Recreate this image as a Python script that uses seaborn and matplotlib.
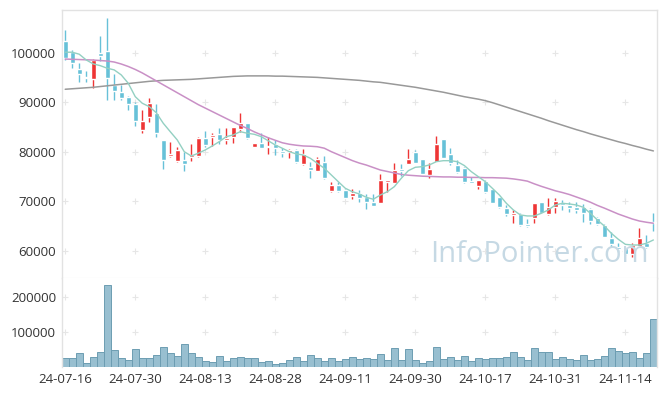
"""Candlestick chart with moving averages and volume (InfoPointer style)."""

import matplotlib
matplotlib.use("Agg")
import matplotlib.pyplot as plt
import numpy as np
import seaborn as sns

# ---- data ----
open_ = [102360, 100080, 96700, 95150, 94750, 100000, 100340, 93540, 92060, 91050,
         89640, 84450, 87070, 87760, 82370, 79200, 78180, 78330, 78870, 79130,
         82830, 82910, 83580, 82370, 83030, 84650, 85740, 81020, 81700, 81020,
         81500, 80140, 79880, 80350, 77460, 76970, 76160, 77860, 72060, 73280,
         72270, 71110, 71720, 70910, 69900, 69700, 73940, 73740, 76440, 77460,
         80000, 78530, 75300, 77980, 82510, 79540, 77320, 76650, 74080, 73140,
         74080, 72470, 70910, 68570, 67150, 67420, 65400, 66550, 69780, 67420,
         68770, 69580, 69240, 68770, 68890, 68370, 66550, 65200, 62500, 60690,
         60490, 59340, 61020, 61500, 65860]
high = [104590, 100550, 97860, 96360, 98670, 103370, 106950, 95700, 93480, 91250,
        90100, 88420, 90790, 89580, 82370, 82020, 81020, 80000, 81500, 83030,
        84180, 83720, 84730, 84730, 85050, 87760, 85860, 81760, 83840, 83030,
        82370, 80690, 80550, 80550, 80490, 77980, 78990, 79190, 73820, 73820,
        72410, 72410, 72270, 71400, 71400, 75440, 74290, 77660, 77460, 80490,
        80350, 78530, 77660, 83170, 82510, 80810, 78330, 76970, 74950, 74290,
        74290, 72470, 70910, 69240, 68230, 67560, 66350, 69700, 69900, 70710,
        70710, 70250, 69780, 69780, 69380, 68570, 66890, 65400, 63840, 61500,
        60810, 61620, 64530, 63170, 67560]
low = [98530, 96850, 94140, 94140, 92800, 98380, 90450, 90450, 90450, 88420,
       85190, 83840, 86060, 83030, 76450, 78990, 77980, 76160, 78120, 78990,
       81020, 81210, 81560, 81560, 81820, 84040, 82510, 80960, 80690, 79480,
       79330, 78990, 78670, 77780, 77320, 74630, 76100, 74490, 71920, 71920,
       70590, 70450, 69900, 68430, 69090, 69700, 71800, 73740, 75150, 77460,
       77660, 75500, 74630, 77980, 78790, 77320, 75760, 73600, 73600, 72470,
       71720, 69580, 68570, 67080, 65540, 65050, 64850, 65540, 67560, 67220,
       67560, 68230, 67880, 67560, 65860, 65400, 65200, 62710, 60810, 59800,
       59140, 58790, 61020, 60490, 64040]
close = [98990, 97860, 95760, 94950, 98460, 99400, 94950, 92330, 90910, 89580,
         86260, 86200, 89780, 83840, 78330, 79480, 80350, 77460, 79270, 82830,
         81350, 83380, 82370, 82830, 84990, 85740, 82710, 81700, 80810, 81220,
         80810, 79680, 80350, 77980, 79480, 76300, 78530, 74630, 73280, 72060,
         70710, 71720, 70710, 69900, 69090, 74290, 74290, 76300, 76160, 78530,
         77780, 75500, 76510, 81560, 78790, 77660, 75960, 73940, 73740, 74290,
         71920, 69700, 68890, 67420, 67680, 65200, 65050, 69580, 67680, 68770,
         70100, 69240, 68690, 68230, 67680, 66000, 65400, 62830, 61360, 60350,
         59340, 61150, 62500, 60810, 65660]
volume = [25700, 25700, 40000, 11400, 28600, 42900, 235100, 49400, 25700, 20900,
          51400, 25700, 25700, 34300, 57100, 40000, 31400, 65700, 40000, 28600,
          18000, 14300, 31400, 17100, 25700, 28600, 25700, 25700, 14300, 17100,
          8600, 11400, 20000, 28600, 17100, 34300, 25700, 17100, 25700, 17100,
          22900, 28600, 22900, 25700, 22900, 37100, 20000, 54300, 20000, 51400,
          20000, 11400, 17100, 57100, 22900, 28600, 20000, 31400, 17100, 25700,
          22900, 25700, 25700, 28600, 42900, 28600, 20000, 54300, 42900, 42900,
          22900, 28600, 22900, 20000, 34300, 20000, 22900, 31400, 54300, 45700,
          40000, 42900, 25700, 40000, 137100]
ma5 = [100080, 100080, 99680, 98520, 97720, 97370, 96850, 96510, 95500, 93820,
       91110, 89780, 89090, 87880, 85740, 84040, 82370, 80000, 79130, 79680,
       80350, 81150, 82020, 83030, 83380, 84040, 83720, 83510, 83030, 82200,
       81350, 80690, 80000, 79540, 79330, 78670, 77660, 76650, 75300, 73940,
       72610, 71920, 71460, 70790, 70390, 71250, 71920, 72930, 74630, 76160,
       76850, 76970, 77320, 77980, 78180, 78180, 77980, 77200, 75960, 74950,
       73940, 72610, 71250, 69580, 68230, 67220, 67020, 67020, 67560, 68230,
       69240, 69580, 69440, 69240, 68770, 67560, 66210, 64990, 63510, 62300,
       61290, 61150, 61150, 61500, 62170]
ma20 = [98700, 98650, 98600, 98550, 98500, 98400, 98300, 98100, 97700, 97200,
        96600, 95900, 95100, 94300, 93500, 92700, 91900, 91100, 90300, 89500,
        88800, 88100, 87400, 86700, 86000, 85300, 84700, 84000, 83400, 82800,
        82300, 81800, 81500, 81300, 81150, 81100, 81000, 80700, 80000, 79400,
        78800, 78200, 77700, 77300, 76800, 76300, 76000, 75700, 75400, 75250,
        75150, 75050, 75000, 74950, 74900, 74900, 74850, 74850, 74800, 74800,
        74750, 74750, 74700, 74650, 74500, 74300, 74050, 73500, 73000, 72550,
        72100, 71750, 71350, 70850, 70350, 69800, 69150, 68600, 68000, 67400,
        66900, 66400, 66000, 65750, 65550]
ma120 = [92600, 92700, 92800, 92900, 93000, 93150, 93300, 93450, 93600, 93750,
         93900, 94050, 94200, 94300, 94400, 94450, 94500, 94550, 94600, 94700,
         94800, 94900, 95000, 95100, 95200, 95250, 95300, 95300, 95300, 95300,
         95250, 95250, 95200, 95150, 95100, 95050, 95000, 94900, 94800, 94700,
         94600, 94500, 94400, 94250, 94100, 94000, 93800, 93600, 93400, 93200,
         93000, 92750, 92500, 92250, 92000, 91700, 91400, 91100, 90850, 90600,
         90300, 89900, 89450, 89000, 88550, 88100, 87650, 87200, 86750, 86250,
         85800, 85350, 84900, 84450, 84050, 83600, 83200, 82800, 82400, 82000,
         81650, 81250, 80900, 80500, 80150]
tick_labels = ["24-07-16", "24-07-30", "24-08-13", "24-08-28", "24-09-11",
               "24-09-30", "24-10-17", "24-10-31", "24-11-14"]
price_ticks = [60000, 70000, 80000, 90000, 100000]
volume_ticks = [100000, 200000]

UP = "#ee3535"
DOWN = "#67c1d8"
GRID = "#e2e2e2"
FONT = ["Open Sans", "DejaVu Sans"]


def draw_crosses(ax, xs, ys):
    gx, gy = np.meshgrid(xs, ys)
    ax.scatter(gx.ravel(), gy.ravel(), marker="+", s=14, color="#e6e6e6",
               linewidths=0.8, zorder=0, clip_on=False)


def main():
    sns.set_style("white")
    plt.rcParams["font.family"] = FONT

    idx = np.arange(len(close))
    xticks = list(range(0, len(close), 10))

    fig = plt.figure(figsize=(6.65, 3.96), dpi=100)
    ax_p = fig.add_axes([0.0928, 0.2987, 0.895, 0.676])
    ax_v = fig.add_axes([0.0928, 0.072, 0.895, 0.2267])

    # price panel
    o, h, l, c = map(np.array, (open_, high, low, close))
    colors = np.where(c >= o, UP, DOWN)
    ax_p.vlines(idx, l, h, colors=colors, linewidth=1.0, zorder=2)
    bottom = np.minimum(o, c)
    height = np.maximum(np.abs(c - o), 150)
    ax_p.bar(idx, height, bottom=bottom, width=0.68, color=colors, zorder=3)

    sns.lineplot(x=idx, y=ma120, ax=ax_p, color="#999999", linewidth=1.1, zorder=4)
    sns.lineplot(x=idx, y=ma20, ax=ax_p, color="#c990c6", linewidth=1.1, zorder=4)
    sns.lineplot(x=idx, y=ma5, ax=ax_p, color="#93d0c2", linewidth=1.0, zorder=5)

    ax_p.set_xlim(-0.5, len(close) - 0.5)
    ax_p.set_ylim(54550, 108600)
    ax_p.set_yticks(price_ticks)
    ax_p.set_yticklabels([str(v) for v in price_ticks])
    ax_p.set_xticks(xticks)
    ax_p.set_xticklabels([])
    draw_crosses(ax_p, xticks, price_ticks)

    ax_p.text(0.802, 0.085, "InfoPointer.com", transform=ax_p.transAxes,
              ha="center", va="center", fontsize=21, color="#c6d9e4",
              family=FONT, zorder=6)

    # volume panel
    sns.barplot(x=idx, y=volume, ax=ax_v, color="#98bfd0", width=1.0,
                saturation=1, edgecolor="#6d9db2", linewidth=0.7)
    ax_v.set_xlim(-0.5, len(close) - 0.5)
    ax_v.set_ylim(0, 256000)
    ax_v.set_yticks(volume_ticks)
    ax_v.set_yticklabels([str(v) for v in volume_ticks])
    ax_v.set_xticks(xticks)
    ax_v.set_xticklabels(tick_labels)
    ax_v.set_xlabel("")
    ax_v.set_ylabel("")
    draw_crosses(ax_v, xticks, volume_ticks)

    for ax in (ax_p, ax_v):
        ax.tick_params(length=0, labelsize=9.5, labelcolor="#333333", pad=4)
        for side in ("left", "top", "right"):
            ax.spines[side].set_color(GRID)
            ax.spines[side].set_linewidth(1.0)
        ax.spines["bottom"].set_visible(False)
        ax.set_facecolor("white")
    ax_v.spines["top"].set_visible(False)
    ax_p.spines["bottom"].set_visible(True)
    ax_p.spines["bottom"].set_color(GRID)

    fig.savefig("out.png", dpi=100)
    plt.close(fig)


if __name__ == "__main__":
    main()
